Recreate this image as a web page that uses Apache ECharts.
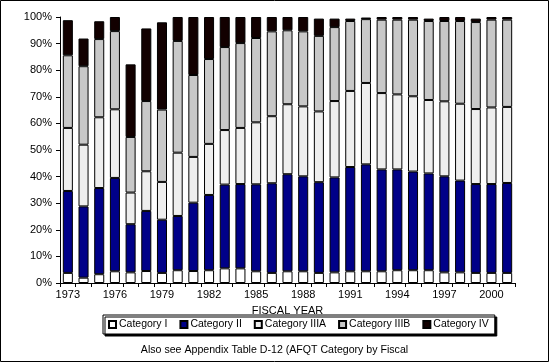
<!DOCTYPE html>
<html>
<head>
<meta charset="utf-8">
<script src="https://cdn.jsdelivr.net/npm/echarts@6/dist/echarts.min.js"></script>
<style>
html,body{margin:0;padding:0;background:#fff;}
#chart{width:549px;height:362px;}
</style>
</head>
<body>
<div id="chart"></div>
<script>
const years = ['1973','1974','1975','1976','1977','1978','1979','1980','1981','1982','1983','1984','1985','1986','1987','1988','1989','1990','1991','1992','1993','1994','1995','1996','1997','1998','1999','2000','2001'];
const catI    = [3.8,2.0,3.3,4.4,4.0,4.5,3.8,4.8,4.5,4.8,5.5,5.5,4.4,3.8,4.4,4.4,3.8,4.0,4.4,4.4,4.4,4.8,4.8,4.8,4.0,4.0,3.8,3.8,3.8];
const catII   = [30.8,26.8,32.4,35.1,18.1,22.6,20.0,20.4,25.7,28.3,31.5,31.7,32.7,33.7,36.5,35.7,34.1,35.7,39.2,40.2,38.3,37.9,37.1,36.4,36.1,34.5,33.4,33.4,33.8];
const catIIIA = [23.7,23.2,26.6,25.8,11.9,14.9,14.2,23.8,17.2,19.2,20.5,21.1,23.3,25.2,26.3,26.3,26.6,28.7,28.6,30.6,28.7,28.2,28.3,27.6,28.2,28.9,28.2,28.8,28.6];
const catIIIB = [27.3,29.5,29.4,29.4,20.9,26.4,27.2,42.0,30.8,31.9,31.2,31.9,31.7,31.9,27.8,28.2,28.4,27.8,26.3,24.0,27.6,28.1,28.8,29.7,30.2,31.1,32.7,33.0,32.8];
const catIV   = [13.2,10.4,6.7,5.3,27.3,27.3,32.8,9.0,21.8,15.8,11.3,9.8,7.9,5.4,5.0,5.4,6.5,3.2,0.9,0.6,1.0,1.0,1.0,0.9,1.5,1.5,1.3,1.0,1.0];
const seriesNames = ['Category I','Category II','Category IIIA','Category IIIB','Category IV'];
const seriesColors = ['#ffffff','#000088','#eeeeee','#c8c8c8','#120000'];
const seriesData = [catI, catII, catIIIA, catIIIB, catIV];
const footnote = 'Also see Appendix Table D-12 (AFQT Category by Fiscal';

const chart = echarts.init(document.getElementById('chart'), null, {renderer:'canvas'});
const font = 'Liberation Sans, Arial, sans-serif';
chart.setOption({
  animation:false,
  backgroundColor:'#fff',
  textStyle:{fontFamily:font},
  grid:{left:60,right:34,top:17,bottom:79,containLabel:false},
  title:{text:footnote,left:'center',top:340,
    textStyle:{fontFamily:font,fontSize:10.6,fontWeight:'normal',color:'#000'}},
  legend:{
    data:seriesNames,
    top:315,left:103,
    itemWidth:7,itemHeight:7,itemGap:12,
    icon:'rect',
    padding:[4,6,4,5],
    borderColor:'#000',borderWidth:1,
    backgroundColor:'#fff',
    shadowColor:'#000',shadowOffsetX:2,shadowOffsetY:2,shadowBlur:0,
    textStyle:{fontFamily:font,fontSize:10.5,color:'#000',padding:[0,0,0,-2]}
  },
  xAxis:{
    type:'category',data:years,
    name:'FISCAL YEAR',nameLocation:'middle',nameGap:22,
    nameTextStyle:{fontFamily:font,fontSize:11,color:'#000'},
    axisLine:{lineStyle:{color:'#000',width:1}},
    axisTick:{show:true,interval:0,length:4,lineStyle:{color:'#000'}},
    axisLabel:{interval:2,color:'#000',fontSize:11,fontFamily:font,margin:6}
  },
  yAxis:{
    type:'value',min:0,max:100,interval:10,
    axisLine:{show:true,lineStyle:{color:'#000',width:1}},
    axisTick:{show:true,length:4,lineStyle:{color:'#000'}},
    axisLabel:{formatter:'{value}%',color:'#000',fontSize:11,fontFamily:font,margin:8},
    splitLine:{show:false}
  },
  graphic:[{type:'rect',shape:{x:0.5,y:0.5,width:548,height:361},
    style:{fill:null,stroke:'#000',lineWidth:1},silent:true,z:100}],
  series:seriesNames.map((n,i)=>({
    name:n,type:'bar',stack:'total',
    data:seriesData[i],
    barWidth:'64%',
    itemStyle:{color:seriesColors[i],borderColor:'#000',borderWidth:1}
  }))
});
</script>
</body>
</html>
